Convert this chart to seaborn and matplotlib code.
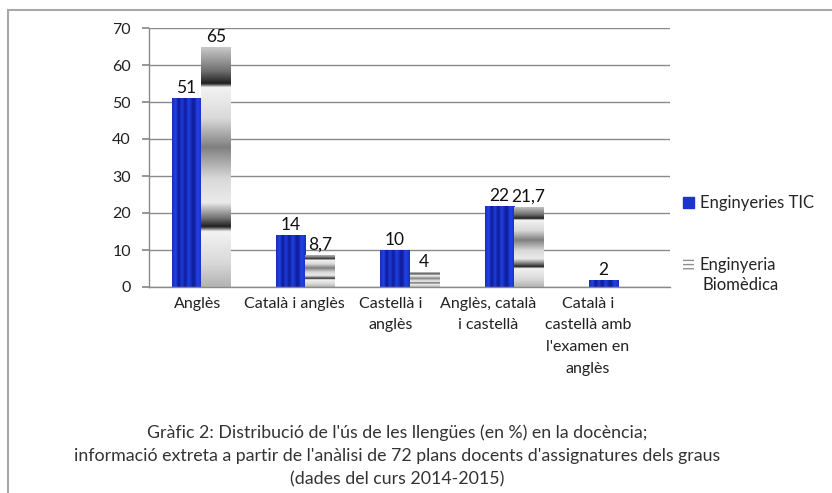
import pandas as pd
import numpy as np
import matplotlib
matplotlib.use('Agg')
import matplotlib.pyplot as plt
import seaborn as sns
from matplotlib.patches import Patch, Rectangle
from matplotlib.colors import LinearSegmentedColormap
from matplotlib.transforms import ScaledTranslation

# data
categories = ['Anglès', 'Català i anglès', 'Castellà i\nanglès',
              'Anglès, català\ni castellà',
              'Català i\ncastellà amb\nl\'examen en\nanglès']
tic = [51, 14, 10, 22, 2]
biomedica = [65, 8.7, 4, 21.7, np.nan]
series_names = ['Enginyeries TIC', 'Enginyeria Biomèdica']

df = pd.DataFrame({
    'cat': categories * 2,
    'serie': [series_names[0]] * 5 + [series_names[1]] * 5,
    'valor': tic + biomedica,
})

sns.set_theme(style='white')
plt.rcParams['font.family'] = ['Lato', 'DejaVu Sans']

fig = plt.figure(figsize=(8.32, 4.93), dpi=100)
ax = fig.add_axes([149 / 832, 1 - 287 / 493, 521 / 832, 259 / 493])

sns.barplot(data=df, x='cat', y='valor', hue='serie', order=categories,
            hue_order=series_names, palette=['#1c34cf', '#cfcfcf'],
            width=0.56, errorbar=None, legend=False, ax=ax,
            linewidth=0, saturation=1)

# textures: vertical blue stripes and stretched gray gradient
blue_cmap = LinearSegmentedColormap.from_list('bl', ['#0a168a', '#2242e6'])
xs = np.linspace(0, 1, 60)
blue_prof = np.interp(xs, [0, 0.12, 0.22, 0.33, 0.44, 0.56, 0.72, 0.86, 1],
                      [0.55, 1, 0.1, 0.9, 0.15, 0.95, 0.1, 1, 0.6])
ts = np.linspace(0, 1, 300)
gray_prof = np.interp(ts, [0, 0.10, 0.155, 0.17, 0.30, 0.42, 0.55, 0.65, 0.72, 0.75, 0.77, 0.9, 1],
                      [0.8, 0.45, 0.12, 0.95, 0.85, 0.5, 0.85, 0.92, 0.4, 0.12, 0.95, 0.85, 0.7])

for i, cont in enumerate(ax.containers):
    for p in cont.patches:
        h = p.get_height()
        if not np.isfinite(h) or h <= 0:
            continue
        x0, w = p.get_x(), p.get_width()
        if i == 0:
            img = np.tile(blue_prof, (2, 1))
            cm = blue_cmap
        else:
            img = gray_prof[:, None]
            cm = 'gray'
        im = ax.imshow(img, cmap=cm, vmin=0, vmax=1, aspect='auto',
                       extent=[x0, x0 + w, 0, h], zorder=2,
                       interpolation='bilinear')
        im.set_clip_path(p)
        lbl = f'{h:g}'.replace('.', ',')
        ax.text(x0 + w / 2, h + 0.5, lbl, ha='center', va='bottom',
                fontsize=12.5, color='#111111', zorder=4)

ax.set_xlim(-0.5, 4.5)
ax.set_ylim(0, 70)
ax.set_yticks(range(0, 71, 10))
ax.yaxis.grid(True, color='#8a8a8a', linewidth=1)
ax.set_axisbelow(True)
ax.set_xlabel('')
ax.set_ylabel('')
for s in ['top', 'right']:
    ax.spines[s].set_visible(False)
for s in ['left', 'bottom']:
    ax.spines[s].set_color('#8a8a8a')
    ax.spines[s].set_linewidth(1)
ax.tick_params(axis='y', length=5, color='#8a8a8a', direction='out',
               left=True, pad=8, labelsize=11.5, labelcolor='#222222')
ax.tick_params(axis='x', length=0, pad=7, labelsize=11.5, labelcolor='#222222')
# category labels sit a little left of the bars in the original
shifts = [-4, -11, -19, -26, -30]
for t, dx in zip(ax.get_xticklabels(), shifts):
    t.set_linespacing(1.7)
    t.set_multialignment('center')
    t.set_transform(t.get_transform() + ScaledTranslation(dx / 100, 0, fig.dpi_scale_trans))

handles = [Patch(facecolor='#1c34cf', edgecolor='#1c34cf'),
           Patch(facecolor='white', edgecolor='#909090', hatch='----', linewidth=0)]
fig.legend(handles, ['Enginyeries TIC', 'Enginyeria'],
           loc='upper left', bbox_to_anchor=(683 / 832, 1 - 195 / 493),
           frameon=False, fontsize=12, handlelength=0.65, handleheight=0.65,
           handletextpad=0.35, labelspacing=2.75, borderaxespad=0, borderpad=0)
fig.text(703 / 832, 1 - 285 / 493, 'Biomèdica', ha='left', va='center',
         fontsize=12, color='#222222')

caption = ["Gràfic 2: Distribució de l'ús de les llengües (en %) en la docència;",
           "informació extreta a partir de l'anàlisi de 72 plans docents d'assignatures dels graus",
           "(dades del curs 2014-2015)"]
for k, line in enumerate(caption):
    fig.text(397 / 832, 1 - (433 + 23 * k) / 493, line, ha='center', va='center',
             fontsize=12.8, color='#333333')

fig.patches.append(Rectangle((8 / 832, -0.1), 1.1, 1 - 10 / 493 + 0.1,
                             transform=fig.transFigure, fill=False,
                             edgecolor='#a8a8a8', linewidth=1.5))

fig.savefig('out.png', dpi=100)
